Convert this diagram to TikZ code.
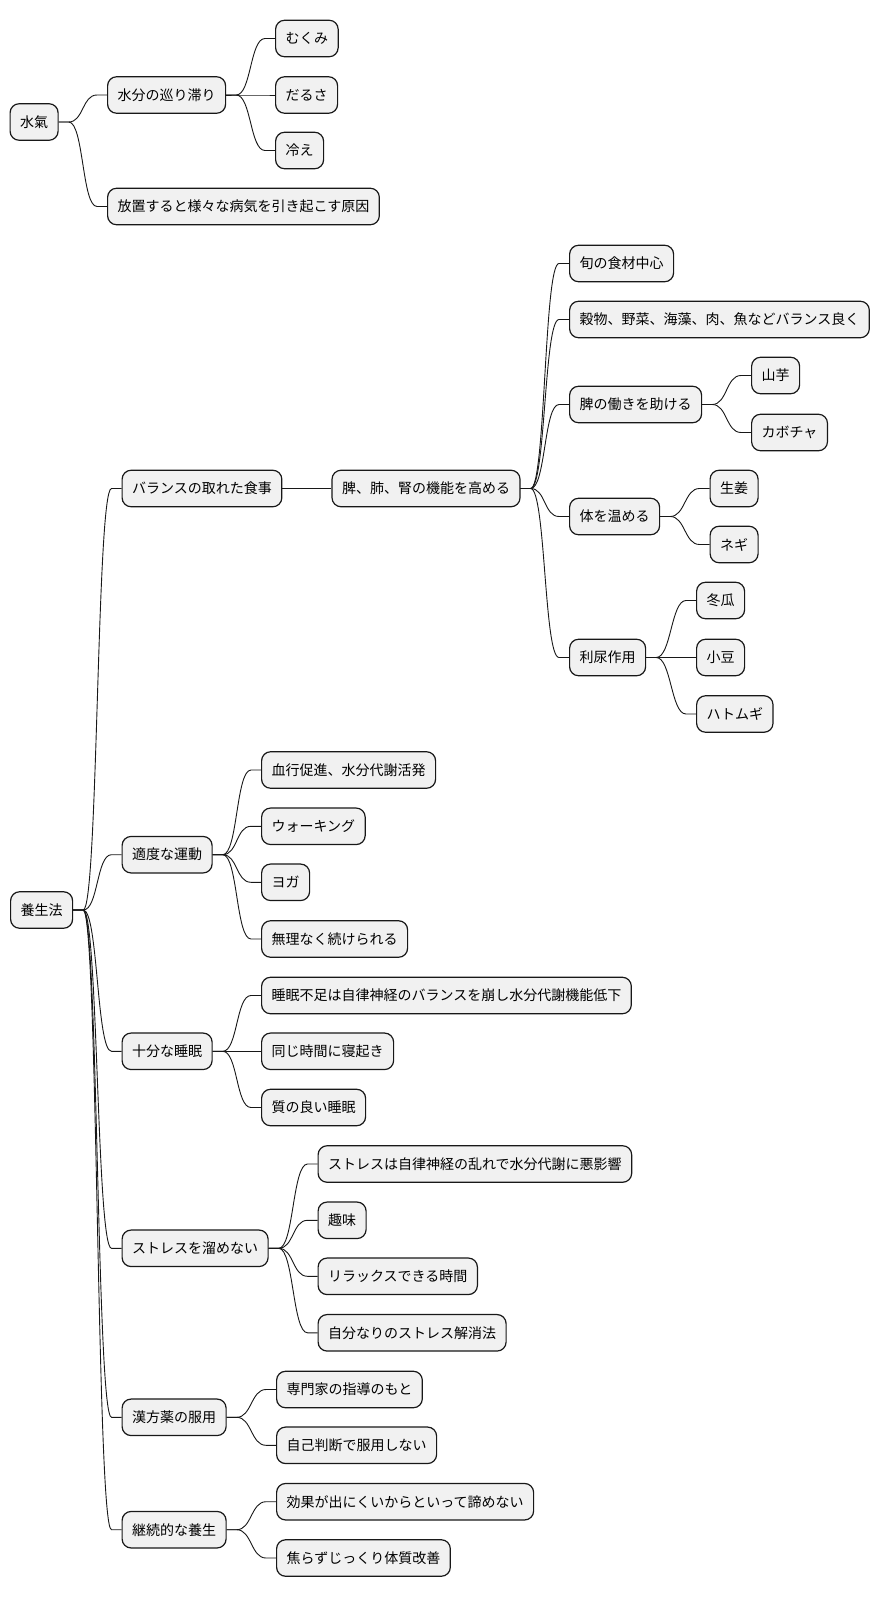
\documentclass[tikz,border=0pt]{standalone}
\usepackage{fontspec}
\setmainfont{Noto Sans CJK JP}
\usepackage{tikz}
\usepackage{color}
\usetikzlibrary{calc,positioning}
\definecolor{boxfill}{HTML}{F1F1F1}
\definecolor{linecol}{HTML}{181818}

\begin{document}
\begin{tikzpicture}[x=1pt, y=-1pt,
    topic/.style={draw=linecol, fill=boxfill, rounded corners=9pt, line width=1.2pt,
      minimum height=36.5pt, inner xsep=10pt, inner ysep=0pt, anchor=west,
      font=\fontsize{14pt}{17pt}\selectfont},
    branch/.style={draw=linecol, line width=0.9pt,
      to path={(\tikztostart.east) -- ++(10,0)
        .. controls +(15,0) and +(-15,0) .. ($(\tikztotarget.west)+(-10,0)$)
        -- (\tikztotarget.west)}}]

  \useasboundingbox (0,0) rectangle (880,1597);
  \fill [white] (0,0) rectangle (880,1597);

  \node [topic] (suiki) at (9.5, 122) {水氣};
  \node [topic] (junkan) at (107, 95) {水分の巡り滞り};
  \node [topic] (mukumi) at (275, 38.5) {むくみ};
  \node [topic] (darusa) at (275, 95) {だるさ};
  \node [topic] (hie) at (275, 150.5) {冷え};
  \node [topic] (genin) at (107, 206.5) {放置すると様々な病気を引き起こす原因};

  \node [topic] (yojo) at (10, 910) {養生法};
  \node [topic] (shokuji) at (121.5, 488.5) {バランスの取れた食事};
  \node [topic, right=49pt of shokuji] (kino) {脾、肺、腎の機能を高める};
  \node [topic] (shun) at (569, 263.5) {旬の食材中心};
  \node [topic] (kokumotsu) at (569, 319.5) {穀物、野菜、海藻、肉、魚などバランス良く};
  \node [topic] (hiwork) at (569, 404.5) {脾の働きを助ける};
  \node [topic] (yamaimo) at (751, 375.5) {山芋};
  \node [topic] (kabocha) at (751, 432.5) {カボチャ};
  \node [topic] (atatame) at (569, 516.5) {体を温める};
  \node [topic] (shoga) at (709.5, 488.5) {生姜};
  \node [topic] (negi) at (709.5, 544.5) {ネギ};
  \node [topic] (rinyo) at (569, 657.5) {利尿作用};
  \node [topic] (togan) at (696, 600.5) {冬瓜};
  \node [topic] (azuki) at (696, 657.5) {小豆};
  \node [topic] (hatomugi) at (696, 714) {ハトムギ};

  \node [topic] (undo) at (121.5, 854.7) {適度な運動};
  \node [topic] (kekko) at (261, 770) {血行促進、水分代謝活発};
  \node [topic] (walking) at (261, 826.3) {ウォーキング};
  \node [topic] (yoga) at (261, 882.3) {ヨガ};
  \node [topic] (muri) at (261, 939) {無理なく続けられる};

  \node [topic] (suimin) at (121.5, 1051.3) {十分な睡眠};
  \node [topic] (busoku) at (261, 995.5) {睡眠不足は自律神経のバランスを崩し水分代謝機能低下};
  \node [topic] (onaji) at (261, 1051.3) {同じ時間に寝起き};
  \node [topic] (shitsu) at (261, 1107.5) {質の良い睡眠};

  \node [topic] (stress) at (121.5, 1248.3) {ストレスを溜めない};
  \node [topic] (midare) at (317.5, 1164) {ストレスは自律神経の乱れで水分代謝に悪影響};
  \node [topic] (shumi) at (317.5, 1220.3) {趣味};
  \node [topic] (relax) at (317.5, 1276.3) {リラックスできる時間};
  \node [topic] (kaisho) at (317.5, 1332.8) {自分なりのストレス解消法};

  \node [topic] (kanpo) at (121.5, 1417.3) {漢方薬の服用};
  \node [topic] (senmon) at (276, 1389.5) {専門家の指導のもと};
  \node [topic] (jiko) at (276, 1445.3) {自己判断で服用しない};

  \node [topic] (keizoku) at (121.5, 1529.7) {継続的な養生};
  \node [topic] (kouka) at (276, 1501.7) {効果が出にくいからといって諦めない};
  \node [topic] (aserazu) at (276, 1558) {焦らずじっくり体質改善};

  \path (suiki) edge [branch] (junkan);
  \path (suiki) edge [branch] (genin);
  \path (junkan) edge [branch] (mukumi);
  \path (junkan) edge [branch] (darusa);
  \path (junkan) edge [branch] (hie);

  \path (yojo) edge [branch] (shokuji);
  \path (yojo) edge [branch] (undo);
  \path (yojo) edge [branch] (suimin);
  \path (yojo) edge [branch] (stress);
  \path (yojo) edge [branch] (kanpo);
  \path (yojo) edge [branch] (keizoku);

  \path (shokuji) edge [branch] (kino);
  \path (kino) edge [branch] (shun);
  \path (kino) edge [branch] (kokumotsu);
  \path (kino) edge [branch] (hiwork);
  \path (kino) edge [branch] (atatame);
  \path (kino) edge [branch] (rinyo);
  \path (hiwork) edge [branch] (yamaimo);
  \path (hiwork) edge [branch] (kabocha);
  \path (atatame) edge [branch] (shoga);
  \path (atatame) edge [branch] (negi);
  \path (rinyo) edge [branch] (togan);
  \path (rinyo) edge [branch] (azuki);
  \path (rinyo) edge [branch] (hatomugi);

  \path (undo) edge [branch] (kekko);
  \path (undo) edge [branch] (walking);
  \path (undo) edge [branch] (yoga);
  \path (undo) edge [branch] (muri);

  \path (suimin) edge [branch] (busoku);
  \path (suimin) edge [branch] (onaji);
  \path (suimin) edge [branch] (shitsu);

  \path (stress) edge [branch] (midare);
  \path (stress) edge [branch] (shumi);
  \path (stress) edge [branch] (relax);
  \path (stress) edge [branch] (kaisho);

  \path (kanpo) edge [branch] (senmon);
  \path (kanpo) edge [branch] (jiko);

  \path (keizoku) edge [branch] (kouka);
  \path (keizoku) edge [branch] (aserazu);
\end{tikzpicture}
\end{document}
